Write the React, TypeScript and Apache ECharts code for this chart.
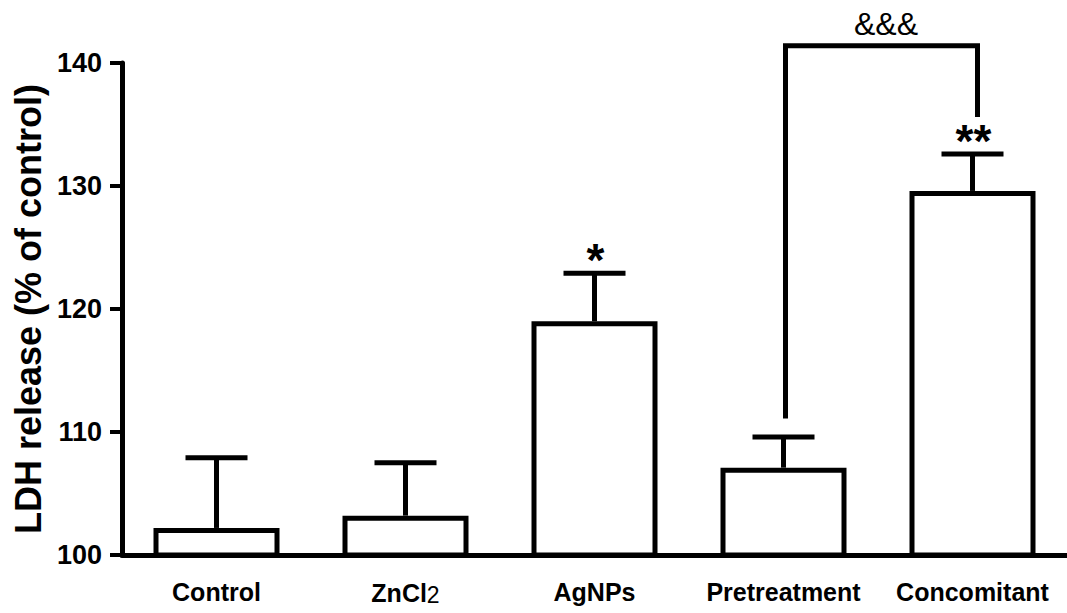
import React, { useEffect, useRef } from "react";
import * as echarts from "echarts";

const categories = ["Control", "ZnCl2", "AgNPs", "Pretreatment", "Concomitant"];
const means = [102.2, 103.2, 119.0, 107.1, 129.6];
const errors = [5.7, 4.3, 3.9, 2.5, 3.0];
const sigLabels = ["", "", "*", "", "**"];
const yTicks = [100, 110, 120, 130, 140];
const bracketCats = [3, 4];
const bracketLevels = [111.1, 141.4, 135.6];
const bracketLabel = "&&&";

const FONT = "'Liberation Sans', Arial, Helvetica, sans-serif";

export default function App() {
  const ref = useRef<HTMLDivElement>(null);
  useEffect(() => {
    if (!ref.current) return;
    const chart = echarts.init(ref.current, null, { renderer: "svg" });
    const option = {
      animation: false,
      backgroundColor: "#ffffff",
      textStyle: { fontFamily: FONT },
      grid: { left: 122, top: 63, width: 950, height: 492 },
      xAxis: {
        type: "category",
        data: categories,
        axisLine: { lineStyle: { color: "#000", width: 5 } },
        axisTick: { alignWithLabel: true, length: 10, lineStyle: { color: "#000", width: 4 } },
        axisLabel: {
          interval: 0,
          color: "#000",
          fontSize: 25,
          fontWeight: "bold",
          fontFamily: FONT,
          margin: 24,
          formatter: (v: string) => (v === "ZnCl2" ? "ZnCl{s|2}" : v),
          rich: {
            s: { fontSize: 23, fontWeight: "normal", fontFamily: FONT, color: "#000", padding: [4, 0, 0, 0] },
          },
        },
      },
      yAxis: {
        type: "value",
        min: yTicks[0],
        max: yTicks[yTicks.length - 1],
        interval: 10,
        name: "LDH release (% of control)",
        nameLocation: "middle",
        nameRotate: 90,
        nameGap: 74,
        nameTextStyle: { color: "#000", fontSize: 36, fontWeight: "bold", fontFamily: FONT },
        splitLine: { show: false },
        axisLine: { show: true, lineStyle: { color: "#000", width: 5 } },
        axisTick: { show: true, length: 12, lineStyle: { color: "#000", width: 4 } },
        axisLabel: { color: "#000", fontSize: 27, fontWeight: "bold", fontFamily: FONT, margin: 20 },
      },
      series: [
        {
          type: "bar",
          data: means,
          barWidth: 126,
          itemStyle: { color: "#fff", borderColor: "#000", borderWidth: 5 },
          z: 2,
        },
        {
          type: "custom",
          z: 3,
          data: categories.map((_, i) => [i, means[i], errors[i]]),
          encode: { x: 0, y: 1 },
          renderItem: (params: any, api: any) => {
            const x = api.value(0);
            const v = api.value(1);
            const e = api.value(2);
            const lbl = sigLabels[params.dataIndex];
            const base = api.coord([x, v]);
            const top = api.coord([x, v + e]);
            const half = 31;
            const children: any[] = [
              { type: "line", shape: { x1: base[0], y1: base[1], x2: top[0], y2: top[1] }, style: { stroke: "#000", lineWidth: 5 } },
              { type: "line", shape: { x1: top[0] - half, y1: top[1], x2: top[0] + half, y2: top[1] }, style: { stroke: "#000", lineWidth: 5 } },
            ];
            if (lbl) {
              children.push({
                type: "text",
                x: top[0] + 1,
                y: top[1] - 36,
                style: { text: lbl, align: "center", verticalAlign: "top", font: `bold 46px ${FONT}`, fill: "#000" },
              });
            }
            return { type: "group", children };
          },
        },
        {
          type: "custom",
          z: 4,
          data: [[bracketCats[0], bracketCats[1], bracketLevels[0], bracketLevels[1], bracketLevels[2]]],
          encode: { x: [0, 1], y: [2, 3, 4] },
          clip: false,
          renderItem: (params: any, api: any) => {
            const c1 = api.value(0);
            const c2 = api.value(1);
            const pLeft = api.coord([c1, api.value(2)]);
            const pTopL = api.coord([c1, api.value(3)]);
            const pTopR = api.coord([c2, api.value(3)]);
            const pRight = api.coord([c2, api.value(4)]);
            return {
              type: "group",
              children: [
                {
                  type: "polyline",
                  shape: {
                    points: [
                      [pLeft[0] + 2, pLeft[1]],
                      [pTopL[0] + 2, pTopL[1]],
                      [pTopR[0] + 5, pTopR[1]],
                      [pRight[0] + 5, pRight[1]],
                    ],
                  },
                  style: { stroke: "#000", lineWidth: 5, fill: null },
                },
                {
                  type: "text",
                  x: (pTopL[0] + pTopR[0]) / 2 + 8,
                  y: pTopL[1] - 6,
                  style: { text: bracketLabel, align: "center", verticalAlign: "bottom", font: `32px ${FONT}`, fill: "#000" },
                },
              ],
            };
          },
        },
      ],
    };
    chart.setOption(option as any);
    return () => chart.dispose();
  }, []);
  return (
    <div
      ref={ref}
      style={{ position: "absolute", left: 0, top: 0, width: 1067, height: 613, background: "#fff" }}
    />
  );
}
